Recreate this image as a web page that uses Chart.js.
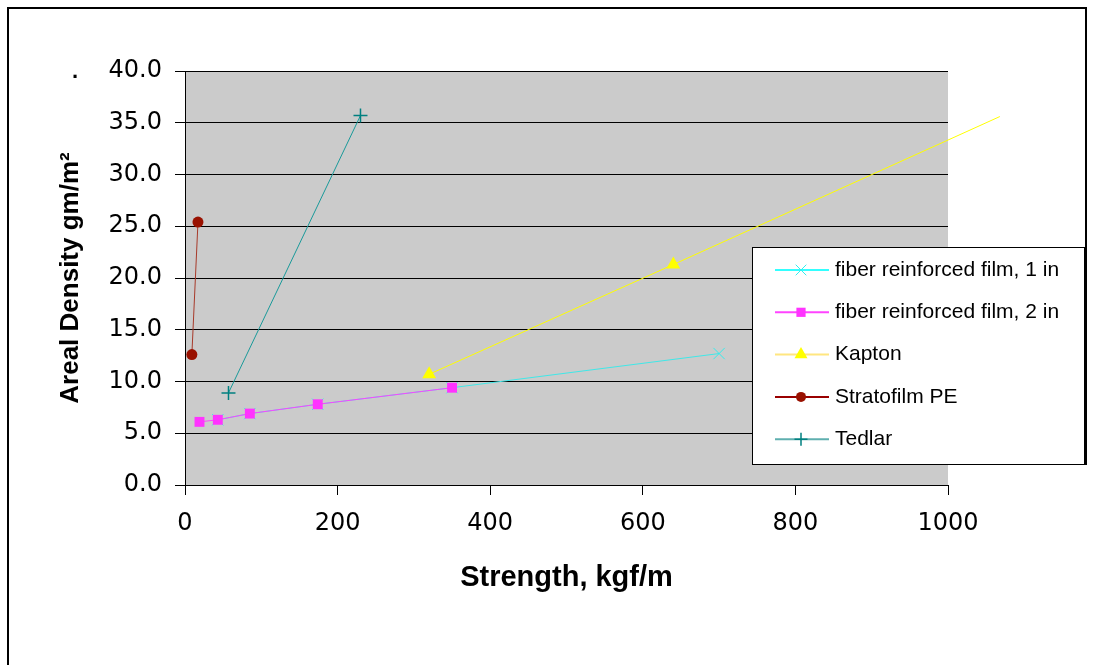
<!DOCTYPE html>
<html>
<head>
<meta charset="utf-8">
<script src="https://cdn.jsdelivr.net/npm/chart.js@4.4.1/dist/chart.umd.min.js"></script>
<style>
  html, body { margin: 0; padding: 0; background: #fff; }
  canvas { display: block; }
</style>
</head>
<body>
<canvas id="densityChart" width="1093" height="665"></canvas>
<script>
const seriesNames = ["fiber reinforced film, 1 in", "fiber reinforced film, 2 in", "Kapton", "Stratofilm PE", "Tedlar"];

const fiber1Strength = [43, 85, 174, 350, 700];
const fiber1Density = [6.3, 6.9, 7.8, 9.4, 12.7];
const fiber2Strength = [19, 43, 85, 174, 350];
const fiber2Density = [6.1, 6.3, 6.9, 7.8, 9.4];
const kaptonStrength = [320, 640, 1068];
const kaptonDensity = [10.7, 21.3, 35.6];
const stratofilmStrength = [9, 17];
const stratofilmDensity = [12.6, 25.4];
const tedlarStrength = [57, 230];
const tedlarDensity = [8.9, 35.7];

const toPoints = (xs, ys) => xs.map((x, i) => ({x: x, y: ys[i]}));

const font = "'Liberation Sans', Arial, sans-serif";
// the original tick numbers are drawn wide, DejaVu gets closest
const tickFont = {family: "'DejaVu Sans', 'Liberation Sans', sans-serif", size: 24};
const titleFont = {family: font, size: 29, weight: "bold"};
const yTitleFont = {family: font, size: 26, weight: "bold"};

// grey plot area like the excel original
const plotBackground = {
	id: "plotBackground",
	beforeDraw(chart) {
		const {ctx, chartArea: a} = chart;
		ctx.save();
		ctx.fillStyle = "#cbcbcb";
		ctx.fillRect(a.left, a.top, a.right - a.left, a.bottom - a.top);
		ctx.restore();
	}
};

// outer frame, stray dot and the boxed legend drawn over the plot
const frameAndLegend = {
	id: "frameAndLegend",
	afterDraw(chart) {
		const ctx = chart.ctx;
		ctx.save();
		ctx.strokeStyle = "#000";
		ctx.lineWidth = 2;
		ctx.beginPath();
		ctx.moveTo(8, 700);
		ctx.lineTo(8, 8);
		ctx.lineTo(1086, 8);
		ctx.lineTo(1086, 465);
		ctx.stroke();

		ctx.fillStyle = "#000";
		ctx.font = "bold 22px " + font;
		ctx.textBaseline = "alphabetic";
		ctx.fillText(".", 72, 78);

		const box = {left: 752, top: 247, right: 1085, bottom: 465};
		ctx.fillStyle = "#fff";
		ctx.fillRect(box.left, box.top, box.right - box.left, box.bottom - box.top);
		ctx.lineWidth = 1;
		ctx.strokeStyle = "#000";
		ctx.strokeRect(box.left + 0.5, box.top + 0.5, box.right - box.left - 1, box.bottom - box.top - 1);

		ctx.font = "21px " + font;
		ctx.textBaseline = "middle";
		chart.data.datasets.forEach((ds, i) => {
			const y = 270 + i * 42.3;
			ctx.strokeStyle = ds.legendLineColor;
			ctx.lineWidth = 2;
			ctx.beginPath();
			ctx.moveTo(775, y);
			ctx.lineTo(829, y);
			ctx.stroke();
			const r = Array.isArray(ds.pointRadius) ? ds.pointRadius[0] : ds.pointRadius;
			ctx.fillStyle = ds.pointBackgroundColor;
			ctx.strokeStyle = ds.pointBorderColor;
			ctx.lineWidth = ds.pointBorderWidth;
			Chart.helpers.drawPoint(ctx, {pointStyle: ds.pointStyle, radius: r - 0.5, rotation: 0, borderWidth: ds.pointBorderWidth}, 801, y);
			ctx.fillStyle = "#000";
			ctx.fillText(ds.label, 835, y);
		});
		ctx.restore();
	}
};

new Chart(
	document.getElementById("densityChart"),
	{
		type: "scatter",
		data: {
			datasets: [
				{
					label: seriesNames[0],
					data: toPoints(fiber1Strength, fiber1Density),
					showLine: true,
					borderColor: "#40e8e8",
					borderWidth: 1,
					legendLineColor: "#33ffff",
					pointStyle: "crossRot",
					pointRadius: 8,
					pointBorderColor: "#33eeee",
					pointBackgroundColor: "#33eeee",
					pointBorderWidth: 1,
					order: 1
				},
				{
					label: seriesNames[1],
					data: toPoints(fiber2Strength, fiber2Density),
					showLine: true,
					borderColor: "#ff44ff",
					borderWidth: 1,
					legendLineColor: "#ff44ff",
					pointStyle: "rect",
					pointRadius: 7,
					pointBorderColor: "#ff33ff",
					pointBackgroundColor: "#ff33ff",
					pointBorderWidth: 0,
					order: 0
				},
				{
					label: seriesNames[2],
					data: toPoints(kaptonStrength, kaptonDensity),
					showLine: true,
					clip: false,
					borderColor: "#ffff00",
					borderWidth: 1,
					legendLineColor: "#ffe680",
					pointStyle: "triangle",
					pointRadius: [8, 8, 0],
					pointBorderColor: "#ffff00",
					pointBackgroundColor: "#ffff00",
					pointBorderWidth: 0,
					order: 2
				},
				{
					label: seriesNames[3],
					data: toPoints(stratofilmStrength, stratofilmDensity),
					showLine: true,
					borderColor: "#a83a2a",
					borderWidth: 1,
					legendLineColor: "#990000",
					pointStyle: "circle",
					pointRadius: 5.5,
					pointBorderColor: "#991100",
					pointBackgroundColor: "#991100",
					pointBorderWidth: 0,
					order: 3
				},
				{
					label: seriesNames[4],
					data: toPoints(tedlarStrength, tedlarDensity),
					showLine: true,
					borderColor: "#1a9a9a",
					borderWidth: 1,
					legendLineColor: "#5fafaf",
					pointStyle: "cross",
					pointRadius: 7,
					pointBorderColor: "#008080",
					pointBackgroundColor: "#008080",
					pointBorderWidth: 1.5,
					order: 4
				}
			]
		},
		options: {
			responsive: false,
			animation: false,
			events: [],
			layout: {
				padding: {left: 0, top: 71, right: 145, bottom: 70}
			},
			plugins: {
				legend: {display: false},
				tooltip: {enabled: false}
			},
			scales: {
				x: {
					type: "linear",
					min: 0,
					max: 1000,
					ticks: {
						stepSize: 200,
						color: "#000",
						font: tickFont,
						padding: 14,
						maxRotation: 0,
						callback: v => String(v)
					},
					grid: {drawOnChartArea: false, drawTicks: true, tickLength: 10, color: "#000", tickColor: "#000"},
					border: {color: "#000", width: 1},
					title: {
						display: true,
						text: "Strength, kgf/m",
						color: "#000",
						font: titleFont,
						padding: {top: 0, bottom: 0}
					},
					afterFit(scale) { scale.height = 110; }
				},
				y: {
					type: "linear",
					min: 0,
					max: 40,
					ticks: {
						stepSize: 5,
						color: "#000",
						font: tickFont,
						padding: 13,
						callback: v => v.toFixed(1)
					},
					grid: {color: "#000", tickColor: "#000", tickLength: 10, lineWidth: 1},
					border: {color: "#000", width: 1},
					title: {
						display: true,
						text: "Areal Density gm/m²",
						color: "#000",
						font: yTitleFont,
						padding: {top: 55, bottom: 0}
					},
					afterFit(scale) { scale.width = 185; }
				}
			}
		},
		plugins: [plotBackground, frameAndLegend]
	}
);
</script>
</body>
</html>
